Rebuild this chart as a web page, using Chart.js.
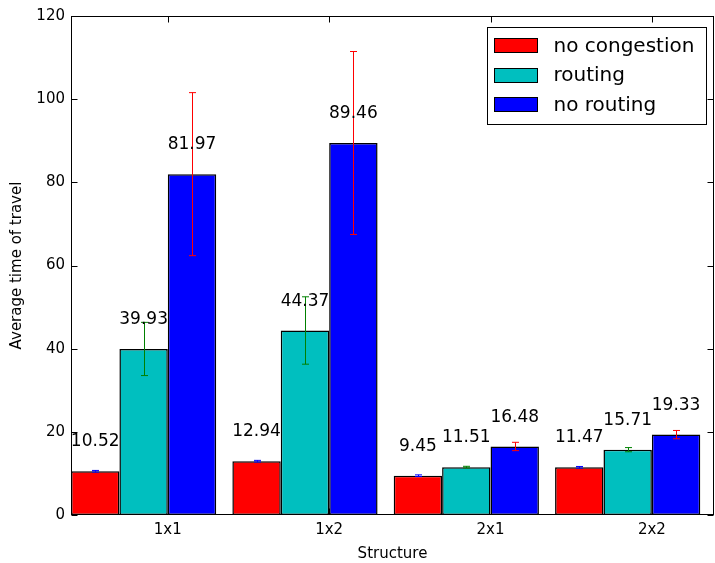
<!DOCTYPE html>
<html>
<head>
<meta charset="utf-8">
<script src="https://cdn.jsdelivr.net/npm/chart.js@4.4.1/dist/chart.umd.min.js"></script>
<style>
  html, body { margin: 0; padding: 0; background: #fff; }
  canvas { display: block; }
</style>
</head>
<body>
<canvas id="barChart" width="715" height="563"></canvas>
<script>
const structures = ['1x1', '1x2', '2x1', '2x2'];
const seriesNames = ['no congestion', 'routing', 'no routing'];
const noCongestion = [10.52, 12.94, 9.45, 11.47];
const routing = [39.93, 44.37, 11.51, 15.71];
const noRouting = [81.97, 89.46, 16.48, 19.33];
const noCongestionErr = [0.2, 0.2, 0.2, 0.2];
const routingErr = [6.4, 8.1, 0.2, 0.5];
const noRoutingErr = [19.6, 22.0, 1.0, 1.0];
const yTicks = [0, 20, 40, 60, 80, 100, 120];

const FONT = '"DejaVu Sans", sans-serif';

// bars sit at i + 0.45 (group centre), ticks at i + 0.6 like the original plot
function points(values) {
  return values.map((v, i) => ({ x: i + 0.45, y: v }));
}

const extras = {
  id: 'extras',
  afterDatasetsDraw(chart) {
    const ctx = chart.ctx;
    const xs = chart.scales.x;
    const ys = chart.scales.y;
    const area = chart.chartArea;

    // error bars + value labels
    chart.data.datasets.forEach((ds, di) => {
      const meta = chart.getDatasetMeta(di);
      meta.data.forEach((bar, i) => {
        const v = ds.data[i].y;
        const e = ds.errors[i];
        const top = ys.getPixelForValue(v + e);
        const bot = ys.getPixelForValue(v - e);
        const bx = Math.round(bar.x) + 0.5;
        ctx.save();
        ctx.strokeStyle = ds.errorColor;
        ctx.lineWidth = 1;
        ctx.beginPath();
        ctx.moveTo(bx, top); ctx.lineTo(bx, bot);
        ctx.moveTo(bx - 3.5, top); ctx.lineTo(bx + 3.5, top);
        ctx.moveTo(bx - 3.5, bot); ctx.lineTo(bx + 3.5, bot);
        ctx.stroke();

        ctx.fillStyle = '#000';
        ctx.font = '17px ' + FONT;
        ctx.textAlign = 'center';
        ctx.textBaseline = 'alphabetic';
        ctx.fillText(v.toFixed(2), bar.x, ys.getPixelForValue(v + 6));
        ctx.restore();
      });
    });

    // frame and inward ticks
    ctx.save();
    ctx.strokeStyle = '#000';
    ctx.lineWidth = 1;
    const L = Math.round(area.left) + 0.5, R = Math.round(area.right) - 0.5;
    const T = Math.round(area.top) + 0.5, B = Math.round(area.bottom) - 0.5;
    ctx.strokeRect(L, T, R - L, B - T);
    ctx.beginPath();
    yTicks.forEach(t => {
      const py = Math.round(ys.getPixelForValue(t)) + 0.5;
      ctx.moveTo(L, py); ctx.lineTo(L + 6, py);
      ctx.moveTo(R, py); ctx.lineTo(R - 6, py);
    });
    xs.ticks.forEach(t => {
      const px = Math.round(xs.getPixelForValue(t.value)) + 0.5;
      ctx.moveTo(px, T); ctx.lineTo(px, T + 6);
      ctx.moveTo(px, B); ctx.lineTo(px, B - 6);
    });
    ctx.stroke();

    // legend box
    const lw = 219, lh = 97;
    const lx = Math.round(area.right) - 8 - lw + 0.5;
    const ly = Math.round(area.top) + 11 + 0.5;
    ctx.fillStyle = '#fff';
    ctx.fillRect(lx, ly, lw, lh);
    ctx.strokeRect(lx, ly, lw, lh);
    ctx.font = '20px ' + FONT;
    ctx.textAlign = 'left';
    ctx.textBaseline = 'alphabetic';
    chart.data.datasets.forEach((ds, di) => {
      const cy = ly + 17.5 + di * 29.7;
      ctx.fillStyle = ds.backgroundColor;
      ctx.fillRect(lx + 7, Math.round(cy - 7) + 0.5, 43, 14);
      ctx.strokeRect(lx + 7, Math.round(cy - 7) + 0.5, 43, 14);
      ctx.fillStyle = '#000';
      ctx.fillText(ds.label, lx + 66, cy + 6.5);
    });
    ctx.restore();
  }
};

const ctx = document.getElementById('barChart').getContext('2d');
new Chart(ctx, {
  type: 'bar',
  data: {
    datasets: [
      {
        label: seriesNames[0],
        data: points(noCongestion),
        errors: noCongestionErr,
        errorColor: '#0000ff',
        backgroundColor: '#ff0000',
        borderColor: '#000000',
        borderWidth: 1.5,
        borderSkipped: false
      },
      {
        label: seriesNames[1],
        data: points(routing),
        errors: routingErr,
        errorColor: '#008000',
        backgroundColor: '#00bfbf',
        borderColor: '#000000',
        borderWidth: 1.5,
        borderSkipped: false
      },
      {
        label: seriesNames[2],
        data: points(noRouting),
        errors: noRoutingErr,
        errorColor: '#ff0000',
        backgroundColor: '#0000ff',
        borderColor: '#000000',
        borderWidth: 1.5,
        borderSkipped: false
      }
    ]
  },
  options: {
    responsive: false,
    animation: false,
    layout: { padding: { top: 16, right: 1, left: 0, bottom: 0 } },
    datasets: {
      bar: {
        categoryPercentage: 0.9,
        barPercentage: 1.0
      }
    },
    plugins: {
      legend: { display: false },
      tooltip: { enabled: false }
    },
    scales: {
      x: {
        type: 'linear',
        min: 0,
        max: 3.985,
        offset: false,
        grid: { display: false, drawTicks: false },
        border: { display: false },
        afterBuildTicks: scale => {
          scale.ticks = structures.map((s, i) => ({ value: i + 0.6 }));
        },
        afterFit: scale => { scale.height = 48; },
        ticks: {
          callback: (val, idx) => structures[idx],
          autoSkip: false,
          maxRotation: 0,
          padding: 6,
          color: '#000',
          font: { family: FONT, size: 15 }
        },
        title: {
          display: true,
          text: 'Structure',
          color: '#000',
          padding: { top: 0, bottom: 0 },
          font: { family: FONT, size: 15 }
        }
      },
      y: {
        min: 0,
        max: 120,
        grid: { display: false, drawTicks: false },
        border: { display: false },
        afterBuildTicks: scale => {
          scale.ticks = yTicks.map(v => ({ value: v }));
        },
        afterFit: scale => { scale.width = 71; },
        ticks: {
          padding: 6,
          color: '#000',
          font: { family: FONT, size: 15 }
        },
        title: {
          display: true,
          text: 'Average time of travel',
          color: '#000',
          padding: { top: 8, bottom: 0 },
          font: { family: FONT, size: 15 }
        }
      }
    }
  },
  plugins: [extras]
});
</script>
</body>
</html>
